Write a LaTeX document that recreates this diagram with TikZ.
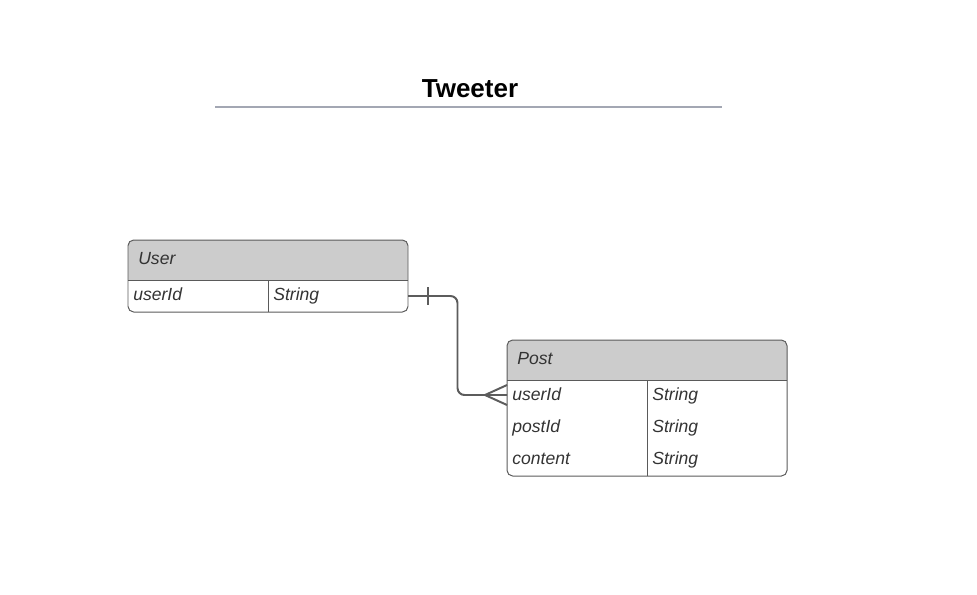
\documentclass[tikz,border=0pt]{standalone}
\usepackage{fontspec}
\setmainfont{Liberation Sans}
\usepackage{xcolor}
\usetikzlibrary{positioning, calc}
\definecolor{hdrgray}{HTML}{CCCCCC}
\definecolor{edgegray}{HTML}{5A5A5A}
\definecolor{inkdark}{HTML}{333333}
\definecolor{titlerule}{HTML}{A3A7B3}
\definecolor{relgray}{HTML}{5C5C5C}

\begin{document}
\begin{tikzpicture}[x=0.025cm, y=-0.025cm, font=\fontsize{12.5}{15}\selectfont\itshape,
  cell/.style={anchor=base west, inner sep=0pt, color=inkdark},
  frame/.style={edgegray, line width=0.7pt},
  rel/.style={relgray, line width=1.4pt}]
\useasboundingbox (0,0) rectangle (977,594);
% title with rule underneath
\node[font=\fontsize{18.5}{22}\selectfont\bfseries, color=black] (title) at (470,89) {Tweeter};
\draw[titlerule, line width=1.4pt] (215,107) -- (722,107);
% User: 128..408 x 240..312, header 40, one row of 32
\begin{scope}
  \clip (128,240) rectangle (408,280);
  \fill[hdrgray, rounded corners=4] (128,240) rectangle (408,312);
\end{scope}
\draw[frame, rounded corners=4] (128,240) rectangle (408,312);
\draw[frame] (128,280) -- (408,280);
\draw[frame] (268,280) -- (268,312);
\node[cell] (usertitle) at (138,264) {User};
\node[cell] (useridkey) at (133,300) {userId};
\node[cell] (useridtype) at (273,300) {String};
% Post: 507..787 x 340..476, header 40, three rows of 32
\begin{scope}
  \clip (507,340) rectangle (787,380);
  \fill[hdrgray, rounded corners=4] (507,340) rectangle (787,476);
\end{scope}
\draw[frame, rounded corners=4] (507,340) rectangle (787,476);
\draw[frame] (507,380) -- (787,380);
\draw[frame] (647,380) -- (647,476);
\node[cell] (posttitle) at (517,364) {Post};
\foreach \i/\fld in {0/userId, 1/postId, 2/content} {
  \node[cell] (postkey\i) at (512,400+32*\i) {\fld};
  \node[cell] (posttype\i) at (652,400+32*\i) {String};
}
% one user -- many posts
\coordinate (userfk) at (408,296);
\coordinate (postfk) at (507,395);
\draw[rel, rounded corners=5] (userfk) -| ($(userfk)!0.5!(postfk)$) |- (postfk);
\draw[rel] ($(userfk)+(20,-9)$) -- ($(userfk)+(20,9)$);
\draw[rel] ($(postfk)+(0,-10)$) -- ($(postfk)+(-22,0)$) -- ($(postfk)+(0,10)$);
\end{tikzpicture}
\end{document}
